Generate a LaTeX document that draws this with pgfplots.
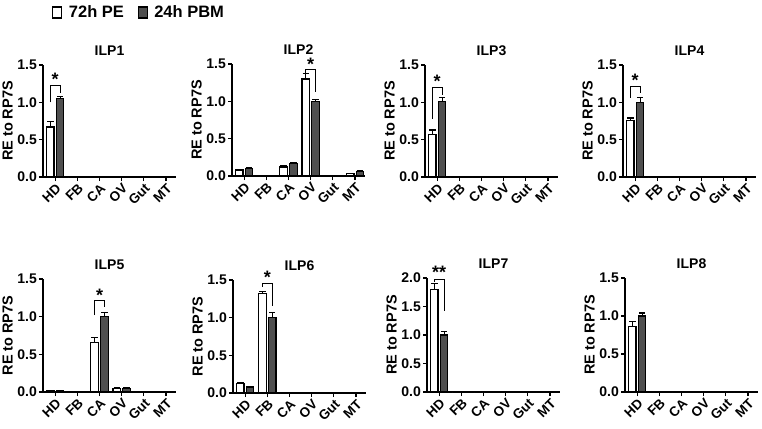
\documentclass[border=0pt]{standalone}
\usepackage{fontspec}
\setmainfont{Liberation Sans}
\usepackage{pgfplots}
\usepackage{pgfplotstable}
\pgfplotsset{compat=1.18}
\definecolor{pbm}{HTML}{4F4F4F}

% x: 0=HD 1=FB 2=CA 3=OV 4=Gut 5=MT ; pe/pbm = mean, pee/pbme = SEM
\pgfplotstableread{
x pe pee pbm pbme
0 0.67 0.07 1.05 0.03
1 0 0 0 0
2 0 0 0 0
3 0 0 0 0
4 0 0 0 0
5 0.005 0 0.01 0
}\ilpone
\pgfplotstableread{
x pe pee pbm pbme
0 0.08 0.01 0.10 0.01
1 0.005 0 0.005 0
2 0.12 0.02 0.17 0.01
3 1.30 0.07 1.00 0.02
4 0 0 0 0
5 0.03 0.005 0.06 0.01
}\ilptwo
\pgfplotstableread{
x pe pee pbm pbme
0 0.57 0.06 1.01 0.05
1 0 0 0 0
2 0 0 0 0
3 0 0 0 0
4 0 0 0 0
5 0.01 0 0.01 0
}\ilpthree
\pgfplotstableread{
x pe pee pbm pbme
0 0.76 0.03 1.00 0.07
1 0 0 0 0
2 0 0 0 0
3 0 0 0 0
4 0 0 0 0
5 0 0 0 0
}\ilpfour
\pgfplotstableread{
x pe pee pbm pbme
0 0.015 0 0.02 0
1 0.005 0 0.005 0
2 0.66 0.06 1.00 0.06
3 0.05 0.005 0.05 0.005
4 0.005 0 0.005 0
5 0.005 0 0.01 0
}\ilpfive
\pgfplotstableread{
x pe pee pbm pbme
0 0.13 0.01 0.08 0.01
1 1.32 0.03 1.00 0.07
2 0 0 0 0
3 0 0 0 0
4 0 0 0 0
5 0.01 0 0.01 0
}\ilpsix
\pgfplotstableread{
x pe pee pbm pbme
0 1.80 0.10 1.00 0.06
1 0 0 0 0
2 0 0 0 0
3 0.01 0 0.01 0
4 0 0 0 0
5 0.01 0 0.01 0
}\ilpseven
\pgfplotstableread{
x pe pee pbm pbme
0 0.86 0.07 1.00 0.04
1 0.01 0 0.01 0
2 0 0 0 0
3 0 0 0 0
4 0 0 0 0
5 0.01 0 0.01 0
}\ilpeight

\tikzset{
  sig/.style={line width=1pt},
  star/.style={font=\fontsize{18}{18}\selectfont\bfseries, inner sep=0pt},
}
\pgfplotsset{
  ilp/.style={
    scale only axis, width=133pt, height=112pt, anchor=south west,
    axis x line=bottom, axis y line=left,
    axis line style={-, line width=1.3pt},
    every tick/.style={black, line width=1.2pt}, tick align=outside,
    major tick length=4pt,
    xmin=-0.55, xmax=5.45, ymin=0, ymax=1.5,
    xtick={0,...,5}, xticklabels={HD,FB,CA,OV,Gut,MT},
    x tick label style={rotate=45, anchor=north east, inner sep=1pt,
      font=\fontsize{13.5}{13.5}\selectfont\bfseries},
    ytick={0,0.5,1,1.5},
    y tick label style={font=\fontsize{14}{14}\selectfont\bfseries, inner sep=2pt,
      /pgf/number format/fixed, /pgf/number format/fixed zerofill,
      /pgf/number format/precision=1},
    /pgf/number format/assume math mode=true,
    ylabel={RE to RP7S},
    ylabel style={font=\fontsize{14.5}{14.5}\selectfont\bfseries, yshift=-1pt},
    title style={font=\fontsize{14}{14}\selectfont\bfseries},
    clip=false,
  },
  pe/.style={ybar, bar width=0.34, bar shift=0pt, fill=white, draw=black,
    line width=1.2pt,
    error bars/.cd, y dir=plus, y explicit,
    error bar style={line width=1.1pt},
    error mark options={rotate=90, mark size=3.2pt, line width=1.1pt}},
  pbm/.style={ybar, bar width=0.34, bar shift=0pt, fill=pbm, draw=black,
    line width=1.2pt,
    error bars/.cd, y dir=plus, y explicit,
    error bar style={line width=1.1pt},
    error mark options={rotate=90, mark size=3.2pt, line width=1.1pt}},
}
% white bars sit left of the category, grey bars right
\def\PE#1{\addplot[pe] table[x expr=\thisrow{x}-0.22, y=pe, y error=pee] {#1};}
\def\PBM#1{\addplot[pbm] table[x expr=\thisrow{x}+0.22, y=pbm, y error=pbme] {#1};}

\begin{document}
\begin{tikzpicture}
\useasboundingbox (0pt,0pt) rectangle (762pt,-428pt);

% ILP1
\begin{axis}[ilp, at={(43pt,-177pt)}, title={ILP1},
  legend style={at={(0.045,1.57)}, anchor=north west, draw=none, fill=none,
    legend columns=2, font=\fontsize{16.5}{16.5}\selectfont\bfseries,
    nodes={inner sep=2.5pt},
    /tikz/every odd column/.append style={column sep=4pt},
    /tikz/every even column/.append style={column sep=11pt}},
  legend image code/.code={\draw[#1,/tikz/.cd,line width=1.3pt] (0pt,-5.5pt) rectangle (9pt,5.5pt);}]
\PE{\ilpone}
\PBM{\ilpone}
\legend{72h PE, 24h PBM}
\draw[sig] (axis cs:-0.22,1.0) |- (axis cs:0.22,1.23) -- (axis cs:0.22,1.12);
\node[star] at (axis cs:0,1.31) {*};
\end{axis}

% ILP2
\begin{axis}[ilp, at={(232pt,-176pt)}, title={ILP2}]
\PE{\ilptwo}
\PBM{\ilptwo}
\draw[sig] (axis cs:2.78,1.38) |- (axis cs:3.22,1.42) -- (axis cs:3.22,1.13);
\node[star] at (axis cs:3,1.49) {*};
\end{axis}

% ILP3
\begin{axis}[ilp, at={(425pt,-177pt)}, title={ILP3}]
\PE{\ilpthree}
\PBM{\ilpthree}
\draw[sig] (axis cs:-0.22,0.78) |- (axis cs:0.22,1.2) -- (axis cs:0.22,1.1);
\node[star] at (axis cs:0,1.28) {*};
\end{axis}

% ILP4
\begin{axis}[ilp, at={(623pt,-177pt)}, title={ILP4}]
\PE{\ilpfour}
\PBM{\ilpfour}
\draw[sig] (axis cs:-0.22,1.06) |- (axis cs:0.22,1.21) -- (axis cs:0.22,1.12);
\node[star] at (axis cs:0,1.29) {*};
\end{axis}

% ILP5
\begin{axis}[ilp, height=113pt, at={(43pt,-392pt)}, title={ILP5}]
\PE{\ilpfive}
\PBM{\ilpfive}
\draw[sig] (axis cs:1.78,1.02) |- (axis cs:2.22,1.21) -- (axis cs:2.22,1.13);
\node[star] at (axis cs:2,1.29) {*};
\end{axis}

% ILP6
\begin{axis}[ilp, height=113pt, at={(233pt,-393pt)}, title={ILP6}]
\PE{\ilpsix}
\PBM{\ilpsix}
\draw[sig] (axis cs:0.78,1.41) |- (axis cs:1.22,1.46) -- (axis cs:1.22,1.15);
\node[star] at (axis cs:1,1.53) {*};
\end{axis}

% ILP7
\begin{axis}[ilp, height=114pt, at={(427pt,-392pt)}, title={ILP7},
  ymax=2, ytick={0,0.5,1,1.5,2}]
\PE{\ilpseven}
\PBM{\ilpseven}
\draw[sig] (axis cs:-0.22,1.93) |- (axis cs:0.22,1.98) -- (axis cs:0.22,1.42);
\node[star] at (axis cs:0,2.1) {**};
\end{axis}

% ILP8
\begin{axis}[ilp, height=114pt, at={(625pt,-392pt)}, title={ILP8}]
\PE{\ilpeight}
\PBM{\ilpeight}
\end{axis}
\end{tikzpicture}
\end{document}
